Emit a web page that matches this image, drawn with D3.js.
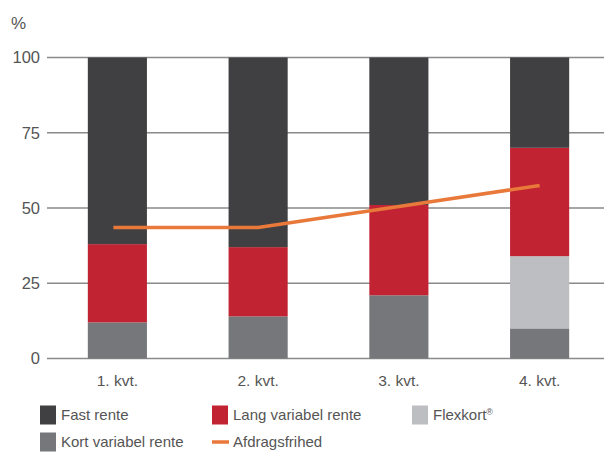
<!DOCTYPE html>
<html><head><meta charset="utf-8">
<script src="https://cdn.jsdelivr.net/npm/d3@7"></script>
<style>body{margin:0;background:#fff;} text{font-family:"Liberation Sans",Arial,sans-serif;fill:#555;}</style>
</head><body>
<svg id="c" width="604" height="460"></svg>
<script>
const categories = ["1. kvt.", "2. kvt.", "3. kvt.", "4. kvt."];
const kortVariabel = [12, 14, 21, 10];
const flexkort = [0, 0, 0, 24];
const langVariabel = [26, 23, 30, 36];
const fastRente = [62, 63, 49, 30];
const afdragsfrihed = [43.5, 43.5, 50.5, 57.5];
const yTicks = [0, 25, 50, 75, 100];

const seriesKeys = ["kort", "flex", "lang", "fast"];
const colors = {kort:"#76777b", flex:"#bdbec1", lang:"#c22332", fast:"#404042"};
const lineColor = "#e8793a";

const svg = d3.select("#c");
const x = d3.scaleBand().domain(categories).range([47, 610]).paddingInner(0.58).paddingOuter(0.29);
const y = d3.scaleLinear().domain([0, 100]).range([358.5, 57.5]);

// gridlines
svg.append("g").selectAll("line").data(yTicks).join("line")
  .attr("x1", 47).attr("x2", 604)
  .attr("y1", d => y(d)).attr("y2", d => y(d))
  .attr("stroke", "#8a8a8a").attr("stroke-width", 1.5);

// y labels
svg.append("g").selectAll("text").data(yTicks).join("text")
  .attr("x", 40).attr("y", d => y(d)).attr("dy", "0.36em")
  .attr("text-anchor", "end").attr("font-size", 16.5).text(d => d);
svg.append("text").attr("x", 11).attr("y", 29).attr("font-size", 17).text("%");

const table = categories.map((c, i) => ({cat: c, kort: kortVariabel[i], flex: flexkort[i], lang: langVariabel[i], fast: fastRente[i]}));
const stacked = d3.stack().keys(seriesKeys)(table);
svg.append("g").selectAll("g").data(stacked).join("g")
  .attr("fill", d => colors[d.key])
  .selectAll("rect").data(d => d).join("rect")
  .attr("x", d => x(d.data.cat)).attr("width", x.bandwidth())
  .attr("y", d => y(d[1])).attr("height", d => y(d[0]) - y(d[1]));

// line
const line = d3.line().x((d, i) => x(categories[i]) + x.bandwidth()/2 - (i===0?4:0)).y(d => y(d));
svg.append("path").datum(afdragsfrihed).attr("d", line)
  .attr("fill", "none").attr("stroke", lineColor).attr("stroke-width", 3.5).attr("stroke-linejoin", "round");

// x labels
svg.append("g").selectAll("text").data(categories).join("text")
  .attr("x", d => x(d) + x.bandwidth()/2).attr("y", 386)
  .attr("text-anchor", "middle").attr("font-size", 15.5).text(d => d);

// legend
const legend = [
  {label:"Fast rente", color:colors.fast, x:40, row:0, type:"box"},
  {label:"Lang variabel rente", color:colors.lang, x:212, row:0, type:"box"},
  {label:"Flexkort", sup:"®", color:colors.flex, x:412, row:0, type:"box"},
  {label:"Kort variabel rente", color:colors.kort, x:40, row:1, type:"box"},
  {label:"Afdragsfrihed", color:lineColor, x:212, row:1, type:"line"}
];
const lg = svg.append("g");
legend.forEach(l => {
  const cy = l.row === 0 ? 415 : 442;
  if (l.type === "box") {
    lg.append("rect").attr("x", l.x).attr("y", cy - 9.5).attr("width", 16).attr("height", 19).attr("fill", l.color);
  } else {
    lg.append("line").attr("x1", l.x).attr("x2", l.x + 17).attr("y1", cy).attr("y2", cy)
      .attr("stroke", l.color).attr("stroke-width", 3.5);
  }
  const t = lg.append("text").attr("x", l.x + 21).attr("y", cy).attr("dy", "0.35em").attr("font-size", 15).text(l.label);
  if (l.sup) t.append("tspan").attr("font-size", 9).attr("dy", "-0.6em").text(l.sup);
});
</script>
</body></html>
